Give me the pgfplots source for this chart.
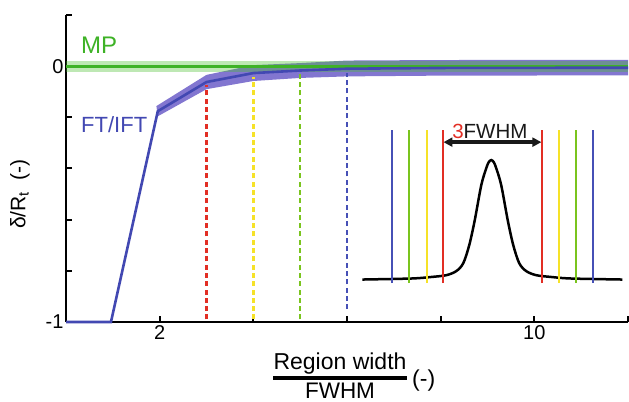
\documentclass[border=0pt]{standalone}
\usepackage{fontspec}
\setmainfont{Liberation Sans}
\usepackage{xcolor}
\usepackage{pgfplots}
\pgfplotsset{compat=1.18}
\usetikzlibrary{arrows.meta}

\definecolor{ftblue}{RGB}{66,72,178}
\definecolor{ftband}{RGB}{130,118,208}
\definecolor{mpgreen}{RGB}{62,178,38}
\definecolor{mpband}{RGB}{70,190,40}
\definecolor{cred}{RGB}{226,46,36}
\definecolor{cyellow}{RGB}{246,226,40}
\definecolor{cgreen}{RGB}{122,196,30}
\definecolor{cblue}{RGB}{70,80,182}

\begin{document}
\begin{tikzpicture}
\path[use as bounding box] (-66bp,-80bp) rectangle (563bp,322bp);
\begin{axis}[
    scale only axis,
    width=562bp, height=307bp,
    xmin=0, xmax=12,
    ymin=-1, ymax=0.2,
    axis x line=bottom, axis y line=left,
    axis line style={-, line width=2.4bp, black},
    xtick={2,4,6,8,10,12},
    xticklabels={2,,,,10,},
    ytick={-1,-0.8,-0.6,-0.4,-0.2,0,0.2},
    yticklabels={-1,,,,,0,},
    tick align=inside,
    major tick length=6bp,
    tick style={black, line width=2bp},
    ticklabel style={font=\fontsize{20bp}{23bp}\selectfont},
    yticklabel style={xshift=1bp},
    clip=false,
]
% FT/IFT uncertainty band
\addplot[draw=none, fill=ftband] coordinates {
  (1.93,-0.156) (3,-0.034) (4,0.004) (5,0.012) (6,0.022) (8,0.024) (12,0.025)
  (12,-0.036) (8,-0.037) (6,-0.040) (5,-0.046) (4,-0.058) (3,-0.090) (1.96,-0.196)
} -- cycle;
% MP band
\addplot[draw=none, fill=mpband, fill opacity=0.35] coordinates {
  (0,0.021) (12,0.021) (12,-0.021) (0,-0.021)} -- cycle;
\addplot[mpgreen, line width=3.2bp] coordinates {(0,0) (12,0)};
% FT/IFT mean
\addplot[ftblue, line width=2.6bp] coordinates {
  (0,-1) (0.96,-1) (1.96,-0.176) (3,-0.062) (4,-0.027) (5,-0.017) (6,-0.010) (8,-0.007) (12,-0.006)};

% dashed markers
\addplot[cred, line width=2.4bp, dash pattern=on 5bp off 3.3bp] coordinates {(3,-0.99) (3,-0.072)};
\addplot[cyellow, line width=2.4bp, dash pattern=on 5bp off 3.3bp] coordinates {(4,-0.99) (4,-0.042)};
\addplot[cgreen, line width=2.4bp, dash pattern=on 5bp off 3.3bp] coordinates {(5,-0.99) (5,-0.030)};
\addplot[cblue, line width=2.4bp, dash pattern=on 5bp off 3.3bp] coordinates {(6,-0.95) (6,-0.028)};

% inset: peak with integration windows
\addplot[black, line width=2.5bp, smooth, tension=0.5] coordinates {
  (6.33,-0.834) (7.374,-0.830) (7.801,-0.824) (8.121,-0.817) (8.334,-0.801)
  (8.483,-0.770) (8.611,-0.699) (8.728,-0.602) (8.867,-0.465) (8.973,-0.399)
  (9.027,-0.375) (9.080,-0.367) (9.133,-0.375) (9.187,-0.399) (9.293,-0.465)
  (9.432,-0.602) (9.549,-0.699) (9.677,-0.770) (9.826,-0.801) (10.039,-0.817)
  (10.359,-0.824) (10.786,-0.830) (11.88,-0.834)};
\addplot[cblue, line width=2bp] coordinates {(6.97,-0.848) (6.97,-0.25)};
\addplot[cgreen, line width=2bp] coordinates {(7.33,-0.848) (7.33,-0.25)};
\addplot[cyellow, line width=2bp] coordinates {(7.70,-0.848) (7.70,-0.25)};
\addplot[cred, line width=2bp] coordinates {(8.04,-0.848) (8.04,-0.25)};
\addplot[cred, line width=2bp] coordinates {(10.17,-0.848) (10.17,-0.25)};
\addplot[cyellow, line width=2bp] coordinates {(10.53,-0.848) (10.53,-0.25)};
\addplot[cgreen, line width=2bp] coordinates {(10.90,-0.848) (10.90,-0.25)};
\addplot[cblue, line width=2bp] coordinates {(11.26,-0.848) (11.26,-0.25)};
\addplot[black!90, line width=3.5bp, {Triangle[length=9bp,width=9bp]}-{Triangle[length=9bp,width=9bp]}]
  coordinates {(8.06,-0.297) (10.15,-0.297)};
\node[anchor=base, font=\fontsize{20.5bp}{24bp}\selectfont, text=black!90]
  at (axis cs:9.05,-0.281) {\textcolor{cred}{3}FWHM};

% series labels
\node[anchor=base west, font=\fontsize{24bp}{28bp}\selectfont, text=mpgreen]
  at (axis cs:0.25,0.051) {MP};
\node[anchor=base west, font=\fontsize{22bp}{26bp}\selectfont, text=ftblue]
  at (axis cs:0.25,-0.258) {FT/IFT};
\end{axis}

% axis labels
\node[rotate=90, font=\fontsize{21bp}{24bp}\selectfont] at (-46bp,128bp)
  {δ/R\textsubscript{t}\ \ (-)};
\draw[line width=4bp] (207bp,-56bp) -- (341bp,-56bp);
\node[anchor=base, font=\fontsize{23bp}{26bp}\selectfont, inner sep=0pt] at (274bp,-47bp) {Region width};
\node[anchor=base, font=\fontsize{22.5bp}{26bp}\selectfont, inner sep=0pt] at (274bp,-76bp) {FWHM};
\node[anchor=west, font=\fontsize{23bp}{26bp}\selectfont, inner sep=0pt] at (346bp,-59bp) {(-)};
\end{tikzpicture}
\end{document}
